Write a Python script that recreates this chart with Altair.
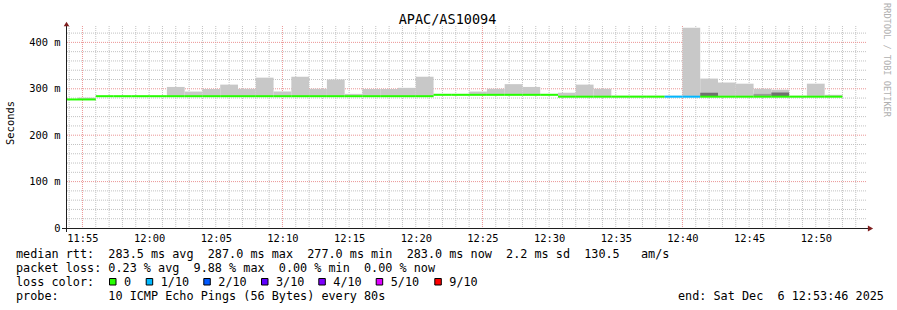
import altair as alt
import pandas as pd

FONT = "DejaVu Sans Mono"
DAY = "2025-12-06T"
NB = "\u00a0"

# ---------------- data ----------------
title_text = "APAC/AS10094"
y_title = "Seconds"
watermark = "RRDTOOL / TOBI OETIKER"

step_bounds = ["11:53:20", "11:54:40", "11:56:00", "11:57:20", "11:58:40", "12:00:00",
               "12:01:20", "12:02:40", "12:04:00", "12:05:20", "12:06:40", "12:08:00", "12:09:20",
               "12:10:40", "12:12:00", "12:13:20", "12:14:40", "12:16:00", "12:17:20", "12:18:40",
               "12:20:00", "12:21:20", "12:22:40", "12:24:00", "12:25:20", "12:26:40", "12:28:00",
               "12:29:20", "12:30:40", "12:32:00", "12:33:20", "12:34:40", "12:36:00", "12:37:20",
               "12:38:40", "12:40:00", "12:41:20", "12:42:40", "12:44:00", "12:45:20", "12:46:40",
               "12:48:00", "12:49:20", "12:50:40", "12:52:00"]

median_ms = [277, 277,
             284, 284, 284, 284, 284, 284, 284, 284, 284, 284, 284, 284, 284, 284, 284, 284, 284, 284, 284,
             287, 287, 287, 287, 287, 287, 287,
             283, 283, 283, 283, 283, 283, 283, 283, 283, 283, 283, 283, 283, 283, 283, 283]

smoke_min = [276, 276,
             283, 283, 283, 283, 283, 283, 283, 283, 283, 283, 283, 283, 283, 283, 283, 283, 283, 283, 283,
             286, 286, 286, 286, 286, 286, 286,
             282, 282, 282, 282, 282, 282, 282, 282, 282, 282, 282, 282, 282, 282, 282, 282]

smoke_max = [278, 281,
             285, 285, 285, 285, 304, 294, 299.5, 309, 300, 324, 294, 326, 300, 320, 289, 299.5, 299.5, 302, 326,
             289, 289, 294, 300, 310, 304, 289,
             291.5, 309, 300, 285, 285, 285, 285, 431.5, 322, 313.5, 311, 300, 298, 285, 311, 287]

inner_min = [None] * 36 + [284, None, None, 284, 284, None, None, None]
inner_max = [None] * 36 + [291.5, None, None, 289, 292, None, None, None]
inner_color = [None] * 36 + ["#707070", None, None, "#9a9a9a", "#707070", None, None, None]

loss_level = ["0"] * 34 + ["1/10", "1/10"] + ["0"] * 8

loss_labels = ["0", "1/10", "2/10", "3/10", "4/10", "5/10", "9/10"]
loss_colors = ["#26ff00", "#00b8ff", "#0059ff", "#5e00ff", "#7e00ff", "#dd00ff", "#ff0000"]

x_label_times = ["11:55", "12:00", "12:05", "12:10", "12:15", "12:20", "12:25",
                 "12:30", "12:35", "12:40", "12:45", "12:50"]
x_major_times = ["11:55", "12:10", "12:25", "12:40"]
x_minor_times = ([f"11:{m:02d}" for m in range(54, 60)] + [f"12:{m:02d}" for m in range(0, 54)])
y_label_values = [0, 100, 200, 300, 400]
y_major_values = [100, 200, 300, 400]
y_minor_values = [v for v in range(20, 440, 20) if v % 100 != 0]

legend_line1 = "median rtt:  283.5 ms avg  287.0 ms max  277.0 ms min  283.0 ms now  2.2 ms sd  130.5   am/s"
legend_line2 = "packet loss: 0.23 % avg  9.88 % max  0.00 % min  0.00 % now"
legend_line3 = "loss color:"
legend_line4 = "probe:       10 ICMP Echo Pings (56 Bytes) every 80s"
end_text = "end: Sat Dec  6 12:53:46 2025"

# ---------------- helpers ----------------
xscale = alt.Scale(domain=[DAY + "11:53:46", DAY + "12:53:46"], nice=False)
yscale = alt.Scale(domain=[0, 435.3], nice=False, zero=False)

steps = pd.DataFrame({
    "start": [DAY + t for t in step_bounds[:-1]],
    "end": [DAY + t for t in step_bounds[1:]],
    "median": median_ms,
    "smin": smoke_min,
    "smax": smoke_max,
    "imin": inner_min,
    "imax": inner_max,
    "icol": inner_color,
    "loss": loss_level,
})
inner = steps.dropna(subset=["imin"])

W, H = 800, 202

# ---------------- axes (labels only) ----------------
ylabel_expr = ("datum.value == 0 ? '0" + NB + NB + "' : format(datum.value, 'd') + '" + NB + "m'")

XAXIS = alt.Axis(
    values=[DAY + t + ":00" for t in x_label_times], format="%H:%M", grid=False, ticks=False,
    domain=False, title=None, labelFont=FONT, labelFontSize=10.4, labelColor="black",
    labelPadding=5, labelFlush=False, labelOverlap=False)
YAXIS = alt.Axis(
    values=y_label_values, labelExpr=ylabel_expr, grid=False, ticks=False, domain=False,
    title=None, labelFont=FONT, labelFontSize=10.4, labelColor="black", labelPadding=6)

def X(field):
    return alt.X(field, scale=xscale, axis=XAXIS)

def Y(field):
    return alt.Y(field, scale=yscale, axis=YAXIS)

# ---------------- grid ----------------
GRID = "#c2c2c2"
MGRID = "#eb9595"
vminor = alt.Chart(pd.DataFrame({"t": [DAY + t + ":00" for t in x_minor_times if t not in x_major_times]})).mark_rule(
    stroke=GRID, strokeWidth=1, strokeDash=[1, 1]).encode(x=X("t:T"))
hminor = alt.Chart(pd.DataFrame({"v": y_minor_values})).mark_rule(
    stroke=GRID, strokeWidth=1, strokeDash=[1, 1]).encode(y=Y("v:Q"))
vmajor = alt.Chart(pd.DataFrame({"t": [DAY + t + ":00" for t in x_major_times]})).mark_rule(
    stroke=MGRID, strokeWidth=1, strokeDash=[1, 1]).encode(x=X("t:T"))
hmajor = alt.Chart(pd.DataFrame({"v": y_major_values})).mark_rule(
    stroke=MGRID, strokeWidth=1, strokeDash=[1, 1]).encode(y=Y("v:Q"))

# ---------------- data marks ----------------
smoke = alt.Chart(steps).mark_rect(color="#c8c8c8", clip=True).encode(
    x=X("start:T"), x2="end:T", y=Y("smin:Q"), y2="smax:Q",
)

inner_smoke = alt.Chart(inner).mark_rect(clip=True).encode(
    x=X("start:T"), x2="end:T", y=Y("imin:Q"), y2="imax:Q",
    color=alt.Color("icol:N", scale=None, legend=None),
)

median_line = alt.Chart(steps).mark_rule(strokeWidth=2, clip=True).encode(
    x=X("start:T"), x2="end:T", y=Y("median:Q"),
    color=alt.Color("loss:N", scale=alt.Scale(domain=loss_labels, range=loss_colors), legend=None),
)

one = pd.DataFrame({"a": [0]})

# ---------------- axes lines and arrows ----------------
xaxis_line = alt.Chart(one).mark_rule(color="#1f1f1f", strokeWidth=1).encode(
    x=alt.value(-4), x2=alt.value(803), y=alt.value(202.5))
yaxis_line = alt.Chart(one).mark_rule(color="#1f1f1f", strokeWidth=1).encode(
    x=alt.value(0.5), y=alt.value(-3), y2=alt.value(206))
xarrow = alt.Chart(one).mark_point(shape="triangle-right", filled=True, size=36, color="#7f1f1f", opacity=1).encode(
    x=alt.value(804.5), y=alt.value(202.5))
yarrow = alt.Chart(one).mark_point(shape="triangle-up", filled=True, size=30, color="#7f1f1f", opacity=1).encode(
    x=alt.value(0.5), y=alt.value(-2))

# ---------------- texts ----------------
def text_layer(s, x, y, size, align="left", color="black", angle=0, baseline="alphabetic"):
    df = pd.DataFrame({"s": [s.replace(" ", NB)]})
    kw = dict(align=align, baseline=baseline, font=FONT, fontSize=size, color=color)
    if angle:
        kw["angle"] = angle
    return alt.Chart(df).mark_text(**kw).encode(x=alt.value(x), y=alt.value(y), text="s:N")

L = 66
T = 26
texts = [
    text_layer(title_text, 447.5 - L, 24 - T, 13.5, align="center"),
    text_layer(y_title, 10.5 - L, 123 - T, 10.4, align="center", angle=270, baseline="middle"),
    text_layer(watermark, 887 - L, 60 - T, 8.6, align="center", color="#b0b0b0", angle=90, baseline="middle"),
    text_layer(legend_line1, 16 - L, 258.3 - T, 11.8),
    text_layer(legend_line2, 16 - L, 272 - T, 11.8),
    text_layer(legend_line3, 16 - L, 285.7 - T, 11.8),
    text_layer(legend_line4, 16 - L, 299.5 - T, 11.8),
    text_layer(end_text, 678 - L, 299.5 - T, 11.8),
]

square_x = [109, 145.7, 203.3, 261, 318.3, 375.7, 434.3]
squares = []
for lab, col, sx in zip(loss_labels, loss_colors, square_x):
    squares.append(alt.Chart(one).mark_rect(fill=col, stroke="black", strokeWidth=1).encode(
        x=alt.value(sx + 0.5 - L), x2=alt.value(sx + 7 - L),
        y=alt.value(278.5 - T), y2=alt.value(285 - T)))
    squares.append(text_layer(lab, sx + 15 - L, 285.7 - T, 11.8))

chart = alt.layer(
    hminor, vminor, hmajor, vmajor, smoke, inner_smoke, median_line,
    xaxis_line, yaxis_line, xarrow, yarrow, *texts, *squares
).properties(
    width=W, height=H,
    padding={"left": L, "top": T, "right": 897 - L - W, "bottom": 310 - T - H},
    autosize=alt.AutoSizeParams(type="none"),
    background="white",
).configure_view(stroke=None)

chart.save("out.html", embed_options={"renderer": "svg", "actions": False})
